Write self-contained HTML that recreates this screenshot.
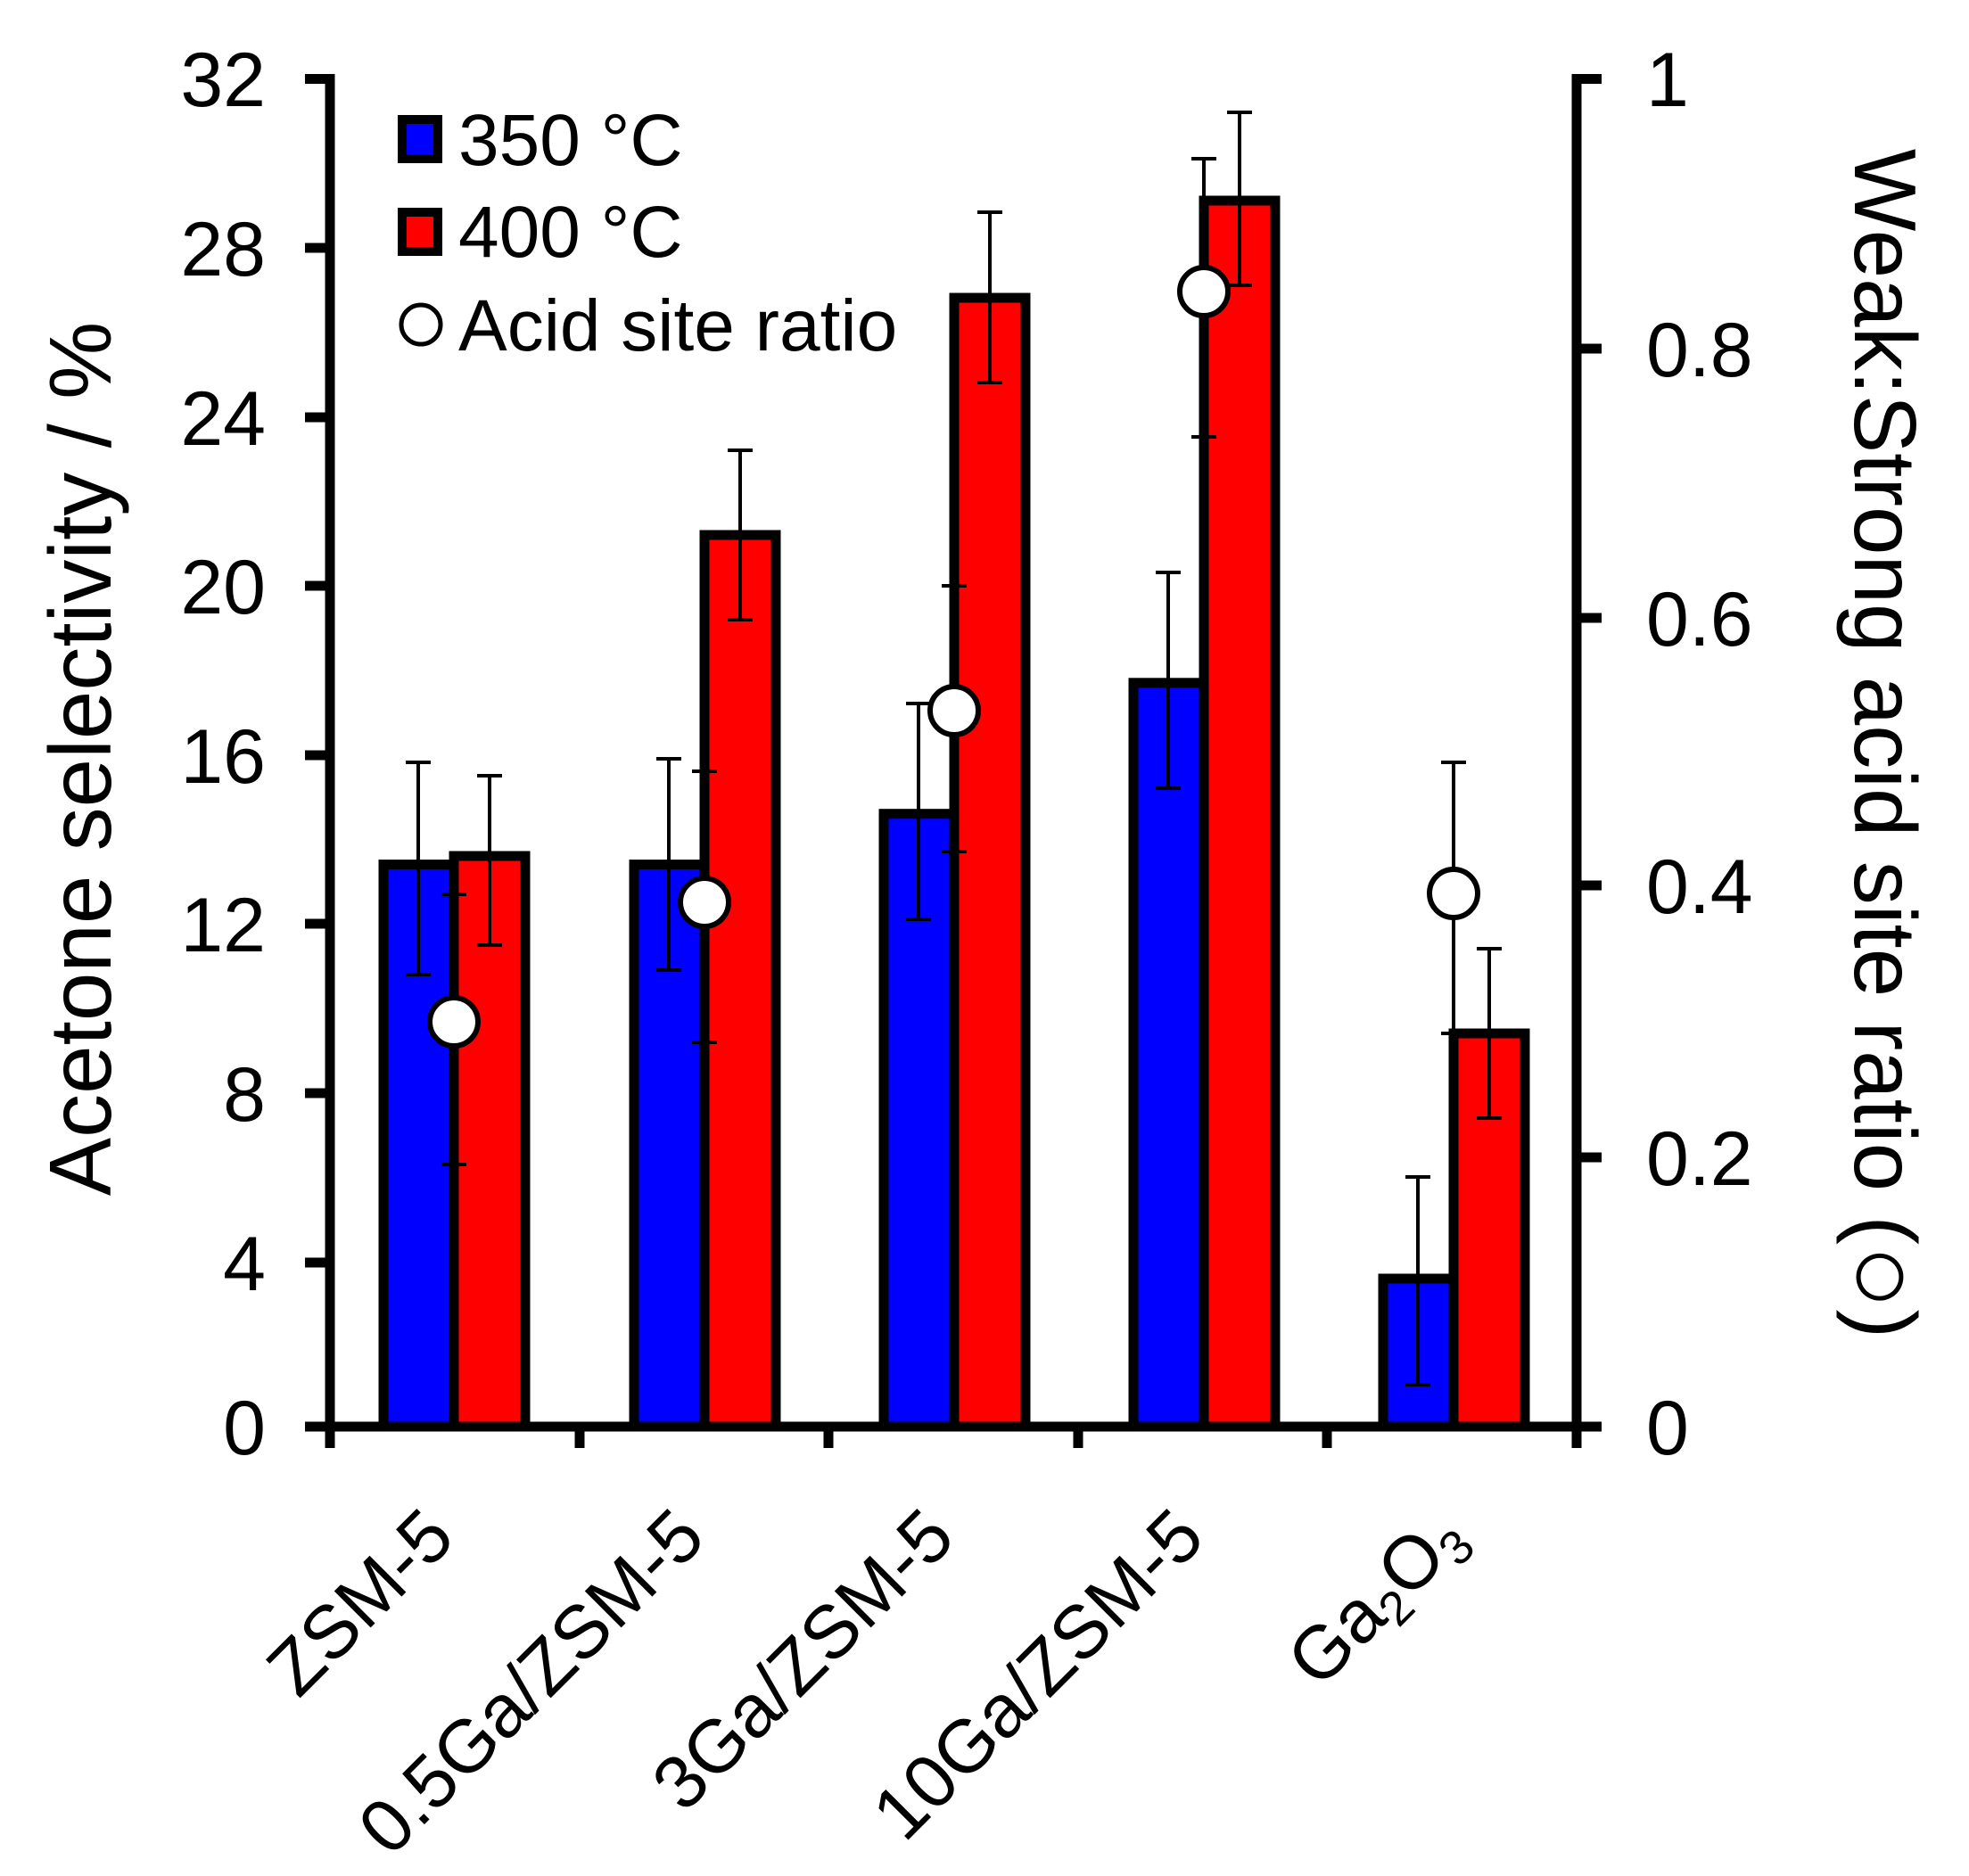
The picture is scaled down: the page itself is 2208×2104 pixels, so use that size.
<!DOCTYPE html>
<html><head><meta charset="utf-8"><style>html,body{margin:0;padding:0;background:#fff}svg{display:block}</style></head>
<body>
<svg xmlns="http://www.w3.org/2000/svg" width="2208" height="2104" viewBox="0 0 2208 2104" font-family="'Liberation Sans', Arial, sans-serif">
<rect width="2208" height="2104" fill="#fff"/>
<g stroke="#000" stroke-width="11">
<rect x="430" y="969.6" width="79" height="630.4" fill="#00f"/>
<rect x="509" y="960" width="80" height="640" fill="#f00"/>
<rect x="711" y="969.6" width="79" height="630.4" fill="#00f"/>
<rect x="790" y="600" width="80" height="1000" fill="#f00"/>
<rect x="991" y="912.7" width="79" height="687.3" fill="#00f"/>
<rect x="1070" y="334" width="80" height="1266" fill="#f00"/>
<rect x="1271" y="765.8" width="79" height="834.2" fill="#00f"/>
<rect x="1350" y="225" width="80" height="1375" fill="#f00"/>
<rect x="1551" y="1434" width="79" height="166" fill="#00f"/>
<rect x="1630" y="1159" width="80" height="441" fill="#f00"/>
</g>
<g stroke="#000" stroke-width="4" fill="none">
<path d="M469 1093V855M455 855h28M455 1093h28"/>
<path d="M549 1060V870M535 870h28M535 1060h28"/>
<path d="M750 1088V851M736 851h28M736 1088h28"/>
<path d="M830 695V505M816 505h28M816 695h28"/>
<path d="M1030 1031V789M1016 789h28M1016 1031h28"/>
<path d="M1110 429V238M1096 238h28M1096 429h28"/>
<path d="M1310 884V642M1296 642h28M1296 884h28"/>
<path d="M1390 320V126M1376 126h28M1376 320h28"/>
<path d="M1590 1553V1320M1576 1320h28M1576 1553h28"/>
<path d="M1670 1254V1064M1656 1064h28M1656 1254h28"/>
<path d="M509 1306V1003M495 1003h28M495 1306h28"/>
<path d="M790 1169V865M776 865h28M776 1169h28"/>
<path d="M1070 955V657M1056 657h28M1056 955h28"/>
<path d="M1350 490V178M1336 178h28M1336 490h28"/>
<path d="M1630 1159V855M1616 855h28M1616 1159h28"/>
</g>
<g fill="#fff" stroke="#000" stroke-width="6">
<circle cx="509" cy="1146" r="27"/>
<circle cx="790" cy="1012" r="27"/>
<circle cx="1070" cy="797" r="27"/>
<circle cx="1350" cy="327" r="27"/>
<circle cx="1630" cy="1002" r="27"/>
</g>
<g stroke="#000" stroke-width="11" fill="none">
<path d="M370 83V1600M1768 83V1600M342 1600H1796"/>
<path d="M342 88.5H370M342 278H370M342 468H370M342 657H370M342 847H370M342 1036H370M342 1226H370M342 1416H370"/>
<path d="M1768 88.5H1796M1768 391H1796M1768 693H1796M1768 993H1796M1768 1298H1796"/>
<path d="M370 1600v24M650 1600v24M929 1600v24M1209 1600v24M1488 1600v24M1768 1600v24"/>
</g>
<g font-size="86" fill="#000" text-anchor="end">
<text x="298" y="119">32</text><text x="298" y="309">28</text><text x="298" y="499">24</text>
<text x="298" y="688">20</text><text x="298" y="878">16</text><text x="298" y="1067">12</text>
<text x="298" y="1257">8</text><text x="298" y="1447">4</text><text x="298" y="1631">0</text>
</g>
<g font-size="86" fill="#000">
<text x="1846" y="119">1</text><text x="1846" y="422">0.8</text><text x="1846" y="724">0.6</text>
<text x="1846" y="1024">0.4</text><text x="1846" y="1329">0.2</text><text x="1846" y="1631">0</text>
</g>
<text transform="translate(124,851) rotate(-90)" font-size="98" text-anchor="middle">Acetone selectivity / %</text>
<text transform="translate(2080,834) rotate(90)" font-size="98" text-anchor="middle">Weak:Strong acid site ratio (<tspan font-size="120" dy="8">○</tspan><tspan dy="-8">)</tspan></text>
<rect x="451" y="134" width="40" height="44" fill="#00f" stroke="#000" stroke-width="10"/>
<rect x="451" y="238" width="40" height="44" fill="#f00" stroke="#000" stroke-width="10"/>
<circle cx="472" cy="364" r="22" fill="#fff" stroke="#000" stroke-width="5"/>
<g font-size="82" fill="#000">
<text x="514" y="185">350 °C</text>
<text x="514" y="288">400 °C</text>
<text x="514" y="393">Acid site ratio</text>
</g>
<g font-size="84" fill="#000" text-anchor="end">
<text transform="translate(513,1728) rotate(-45)">ZSM-5</text>
<text transform="translate(794,1728) rotate(-45)">0.5Ga/ZSM-5</text>
<text transform="translate(1074,1728) rotate(-45)">3Ga/ZSM-5</text>
<text transform="translate(1354,1728) rotate(-45)">10Ga/ZSM-5</text>
<text transform="translate(1647,1728) rotate(-45)">Ga<tspan font-size="54" dy="14">2</tspan><tspan dy="-14">O</tspan><tspan font-size="54" dy="14">3</tspan></text>
</g>
</svg>
</body></html>
